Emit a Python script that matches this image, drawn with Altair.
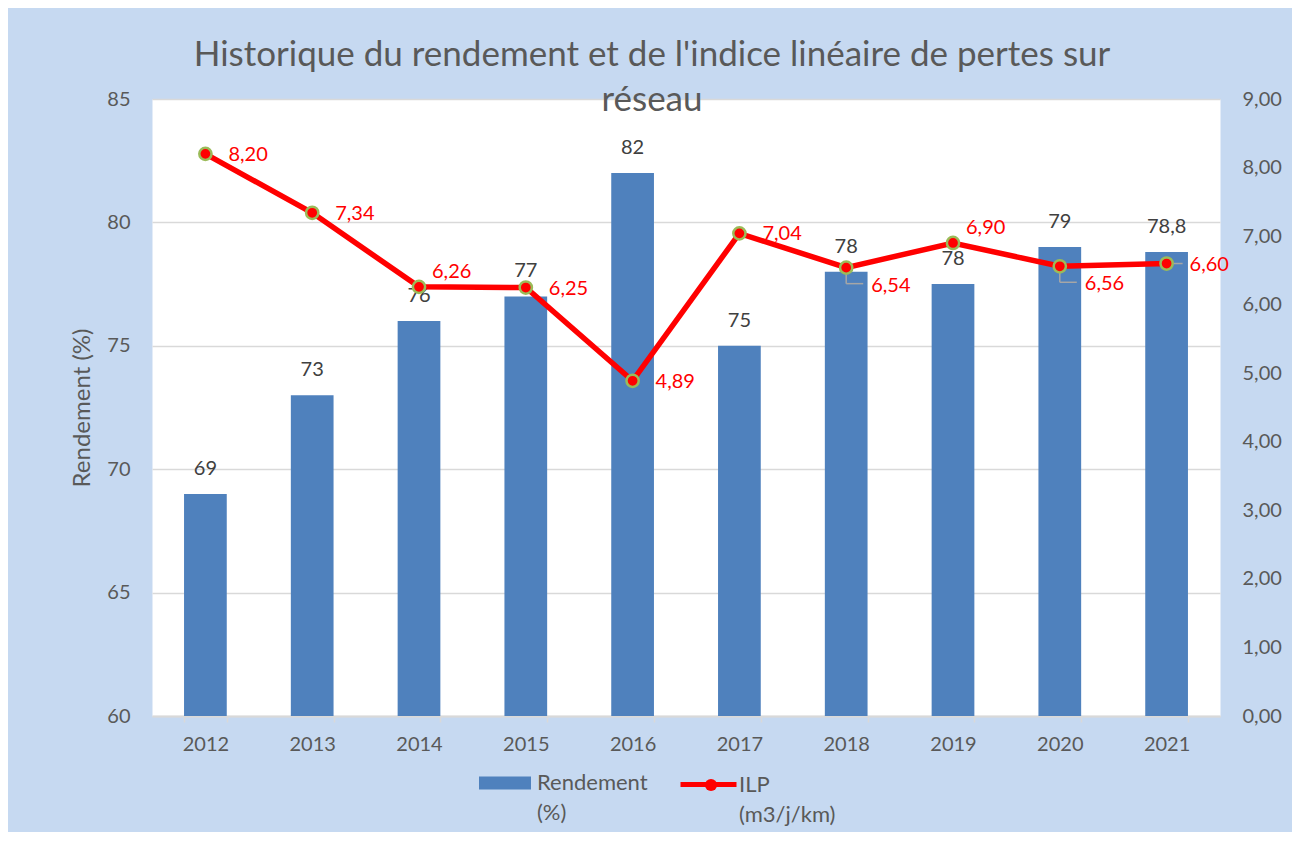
import altair as alt
import pandas as pd

years = ["2012", "2013", "2014", "2015", "2016", "2017", "2018", "2019", "2020", "2021"]
rendement = [69, 73, 76, 77, 82, 75, 78, 77.5, 79, 78.8]
rendement_labels = ["69", "73", "76", "77", "82", "75", "78", "78", "79", "78,8"]
ilp = [8.20, 7.34, 6.26, 6.25, 4.89, 7.04, 6.54, 6.90, 6.56, 6.60]
ilp_labels = ["8,20", "7,34", "6,26", "6,25", "4,89", "7,04", "6,54", "6,90", "6,56", "6,60"]

left_ticks = [60, 65, 70, 75, 80, 85]
right_ticks = [0, 1, 2, 3, 4, 5, 6, 7, 8, 9]

series_r = "Rendement (%)"
series_l = "ILP (m3/j/km)"

df = pd.DataFrame({
    "year": years,
    "rendement": rendement,
    "rlabel": rendement_labels,
    "ilp": ilp,
    "ilabel": ilp_labels,
    "sr": series_r,
    "sl": series_l,
    "sp": "pt",
})

FONT = "Lato"
GREY = "#595959"
BAR = "#4F81BD"
RED = "#FF0000"
GREEN = "#9BBB59"
FS = 20
LFS = 22

base = alt.Chart(df)
xenc = alt.X(
    "year:N",
    scale=alt.Scale(paddingInner=0.6, paddingOuter=0.3),
    axis=alt.Axis(
        title=None, labelAngle=0, labelFont=FONT, labelFontSize=FS, labelColor=GREY,
        labelPadding=12, tickBand="extent", tickColor="#D9D9D9", tickSize=6, tickWidth=1.5,
        domainColor="#D9D9D9", domainWidth=2, grid=False,
    ),
)

yl_scale = alt.Scale(domain=[60, 85], zero=False, nice=False)
yr_scale = alt.Scale(domain=[0, 9], zero=False, nice=False)

LEG_Y = 658

bars = base.mark_bar(color=BAR).encode(
    x=xenc,
    y=alt.Y(
        "rendement:Q", scale=yl_scale,
        axis=alt.Axis(
            values=left_ticks, title="Rendement (%)", titleFont=FONT, titleFontSize=24,
            titleColor=GREY, titleFontWeight="normal", titlePadding=12,
            labelFont=FONT, labelFontSize=FS, labelColor=GREY, labelPadding=22,
            ticks=False, domain=False, gridColor="#D9D9D9", gridWidth=1.5,
        ),
    ),
    y2=alt.datum(60),
    fill=alt.Fill(
        "sr:N", scale=alt.Scale(domain=[series_r], range=[BAR]),
        legend=alt.Legend(
            orient="none", legendX=327, legendY=LEG_Y, title=None,
            symbolType="M-1,-0.25H1V0.25H-1Z", symbolSize=2704, symbolStrokeWidth=0,
            labelExpr="split(datum.label, ' ')", labelFont=FONT, labelFontSize=LFS,
            labelColor=GREY, labelOffset=6, labelLimit=0,
        ),
    ),
)

bar_text = base.mark_text(
    font=FONT, fontSize=FS, color="#404040", baseline="middle", dy=-25
).encode(
    x=alt.X("year:N"),
    y=alt.Y("rendement:Q", scale=yl_scale),
    text="rlabel:N",
)

left = alt.layer(bars, bar_text)

line = base.mark_line(strokeWidth=5.5).encode(
    x=alt.X("year:N"),
    y=alt.Y(
        "ilp:Q", scale=yr_scale,
        axis=alt.Axis(
            orient="right", values=right_ticks, title=None,
            labelExpr="replace(format(datum.value, '.2f'), '.', ',')",
            labelFont=FONT, labelFontSize=FS, labelColor=GREY, labelPadding=22,
            ticks=False, domain=False, grid=False,
        ),
    ),
    stroke=alt.Stroke(
        "sl:N", scale=alt.Scale(domain=[series_l], range=[RED]),
        legend=alt.Legend(
            orient="none", legendX=526, legendY=LEG_Y - 3, title=None, zindex=1,
            symbolType="stroke", symbolSize=3136, symbolStrokeWidth=5,
            labelExpr="split(datum.label, ' ')", labelFont=FONT, labelFontSize=LFS,
            labelColor=GREY, labelOffset=0, labelLimit=0,
        ),
    ),
)

yr = alt.Y("ilp:Q", scale=yr_scale)

leader_v = base.mark_rule(color="#A6A6A6", strokeWidth=1.5, y2Offset=16).encode(
    x=alt.X("year:N"), y=yr, y2=alt.Y2("ilp:Q"),
).transform_filter(alt.FieldOneOfPredicate(field="year", oneOf=["2018", "2020"]))

leader_h = base.mark_rule(color="#A6A6A6", strokeWidth=1.5, yOffset=16, x2Offset=17).encode(
    x=alt.X("year:N"), x2=alt.X2("year:N"), y=yr,
).transform_filter(alt.FieldOneOfPredicate(field="year", oneOf=["2018", "2020"]))

leader_h2 = base.mark_rule(color="#A6A6A6", strokeWidth=1.5, x2Offset=16).encode(
    x=alt.X("year:N"), x2=alt.X2("year:N"), y=yr,
).transform_filter(alt.FieldOneOfPredicate(field="year", oneOf=["2021"]))

points = base.mark_point(
    filled=True, fill=RED, stroke=GREEN, strokeWidth=2.5, size=150, opacity=1
).encode(
    x=alt.X("year:N"),
    y=yr,
    shape=alt.Shape(
        "sp:N", scale=alt.Scale(domain=["pt"], range=["circle"]),
        legend=alt.Legend(
            orient="none", legendX=548, legendY=LEG_Y + 17, title=None, zindex=2,
            symbolFillColor=RED, symbolStrokeColor=GREEN, symbolStrokeWidth=2.5,
            symbolSize=150, labelExpr="''", labelFont=FONT, labelFontSize=LFS,
            labelOffset=0,
        ),
    ),
)

right_years = ["2012", "2013", "2015", "2016", "2017", "2021"]
above_years = ["2014", "2019"]
below_years = ["2018", "2020"]

def ilp_text(sel, dx, dy):
    return base.mark_text(
        font=FONT, fontSize=FS, color=RED, align="left", baseline="middle", dx=dx, dy=dy
    ).encode(
        x=alt.X("year:N"), y=yr, text="ilabel:N",
    ).transform_filter(alt.FieldOneOfPredicate(field="year", oneOf=sel))

right = alt.layer(
    line, leader_v, leader_h, leader_h2, points,
    ilp_text(right_years, 23, 1),
    ilp_text(above_years, 13, -15),
    ilp_text(below_years, 25, 18),
)

chart = alt.layer(left, right).resolve_scale(y="independent").properties(
    width=1068,
    height=617,
    autosize=alt.AutoSizeParams(type="none"),
    padding={"left": 144, "top": 91, "right": 72, "bottom": 116},
    background="#C6D9F1",
    title=alt.Title(
        ["Historique du rendement et de l'indice linéaire de pertes sur", "réseau"],
        font=FONT, fontSize=35, fontWeight="normal", color=GREY,
        lineHeight=45, offset=-29, dx=-34, anchor="middle",
    ),
).configure(
    style={"guide-label": {"lineHeight": 30}},
    view=alt.ViewConfig(fill="white", stroke="transparent"),
)

chart.save("out.html", embed_options={"renderer": "svg", "actions": False})
